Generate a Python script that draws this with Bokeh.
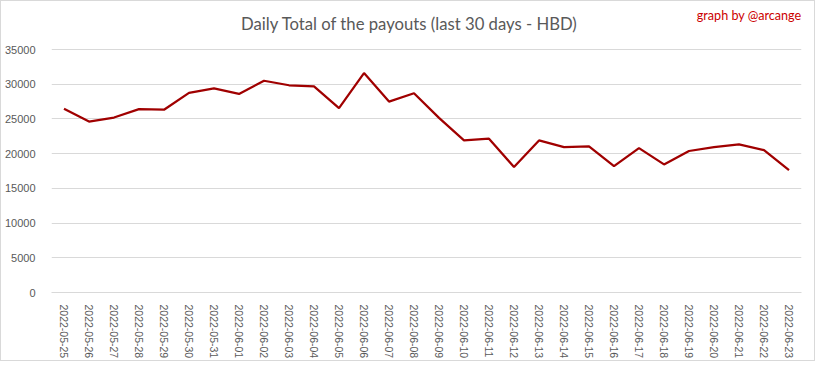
from bokeh.plotting import figure
from bokeh.models import FactorRange, Range1d, FixedTicker, Label, ColumnDataSource
from bokeh.embed import file_html
from bokeh.resources import INLINE

dates = ["2022-05-25", "2022-05-26", "2022-05-27", "2022-05-28", "2022-05-29", "2022-05-30",
         "2022-05-31", "2022-06-01", "2022-06-02", "2022-06-03", "2022-06-04", "2022-06-05",
         "2022-06-06", "2022-06-07", "2022-06-08", "2022-06-09", "2022-06-10", "2022-06-11",
         "2022-06-12", "2022-06-13", "2022-06-14", "2022-06-15", "2022-06-16", "2022-06-17",
         "2022-06-18", "2022-06-19", "2022-06-20", "2022-06-21", "2022-06-22", "2022-06-23"]
payouts = [26450, 24620, 25200, 26420, 26330, 28750, 29400, 28600, 30500, 29850,
           29700, 26550, 31600, 27500, 28700, 25150, 21900, 22150, 18070, 21900,
           20950, 21050, 18200, 20800, 18450, 20380, 20930, 21330, 20520, 17620]
y_ticks = [0, 5000, 10000, 15000, 20000, 25000, 30000, 35000]

title_text = "Daily Total of the payouts (last 30 days - HBD)"
credit_text = "graph by @arcange"

src = ColumnDataSource(data=dict(date=dates, value=payouts))

W, H = 815, 361
BL, BR, BB = 49, 15, 70
TOP_GAP = 48                      # pixels between canvas top and the 35000 gridline
FH = H - BB                       # frame spans from the canvas top to the x axis
y_top = y_ticks[-1] * FH / (FH - TOP_GAP)

p = figure(x_range=FactorRange(*dates), y_range=Range1d(0, y_top),
           width=W, height=H, output_backend="svg", toolbar_location=None,
           min_border_left=BL, min_border_right=BR, min_border_top=0, min_border_bottom=BB)
p.styles = {"border": "1px solid #d9d9d9"}
p.outline_line_color = None
p.background_fill_color = "white"
p.border_fill_color = "white"

p.line(x="date", y="value", source=src, line_color="#a00000", line_width=2.25)

p.xgrid.grid_line_color = None
p.ygrid.grid_line_color = "#d9d9d9"
p.ygrid.grid_line_width = 1
p.yaxis.ticker = FixedTicker(ticks=y_ticks)
p.yaxis.axis_line_color = None
p.yaxis.major_tick_line_color = None
p.yaxis.minor_tick_line_color = None
p.yaxis.major_label_text_color = "#595959"
p.yaxis.major_label_text_font = "Liberation Sans"
p.yaxis.major_label_text_font_size = "11px"
p.yaxis.major_label_standoff = 10

p.xaxis.axis_line_color = "#d9d9d9"
p.xaxis.major_tick_line_color = None
p.xaxis.minor_tick_line_color = None
p.xaxis.major_label_orientation = "vertical"
p.xaxis.major_label_text_color = "#595959"
p.xaxis.major_label_text_font = "Liberation Sans"
p.xaxis.major_label_text_font_size = "10.5px"
p.xaxis.major_label_standoff = 6

# screen units are relative to the plot frame (x from its left, y up from its bottom)
p.add_layout(Label(x=407 - BL, y=FH - 22, x_units="screen", y_units="screen",
                   text=title_text, text_align="center", text_baseline="middle",
                   text_font="Lato", text_font_size="16.7px", text_color="#595959"))
p.add_layout(Label(x=799 - BL, y=FH - 14, x_units="screen", y_units="screen",
                   text=credit_text, text_align="right", text_baseline="middle",
                   text_font="Lato", text_font_size="12.6px", text_color="#cc0000"))

open("out.html", "w").write(file_html(p, INLINE))
